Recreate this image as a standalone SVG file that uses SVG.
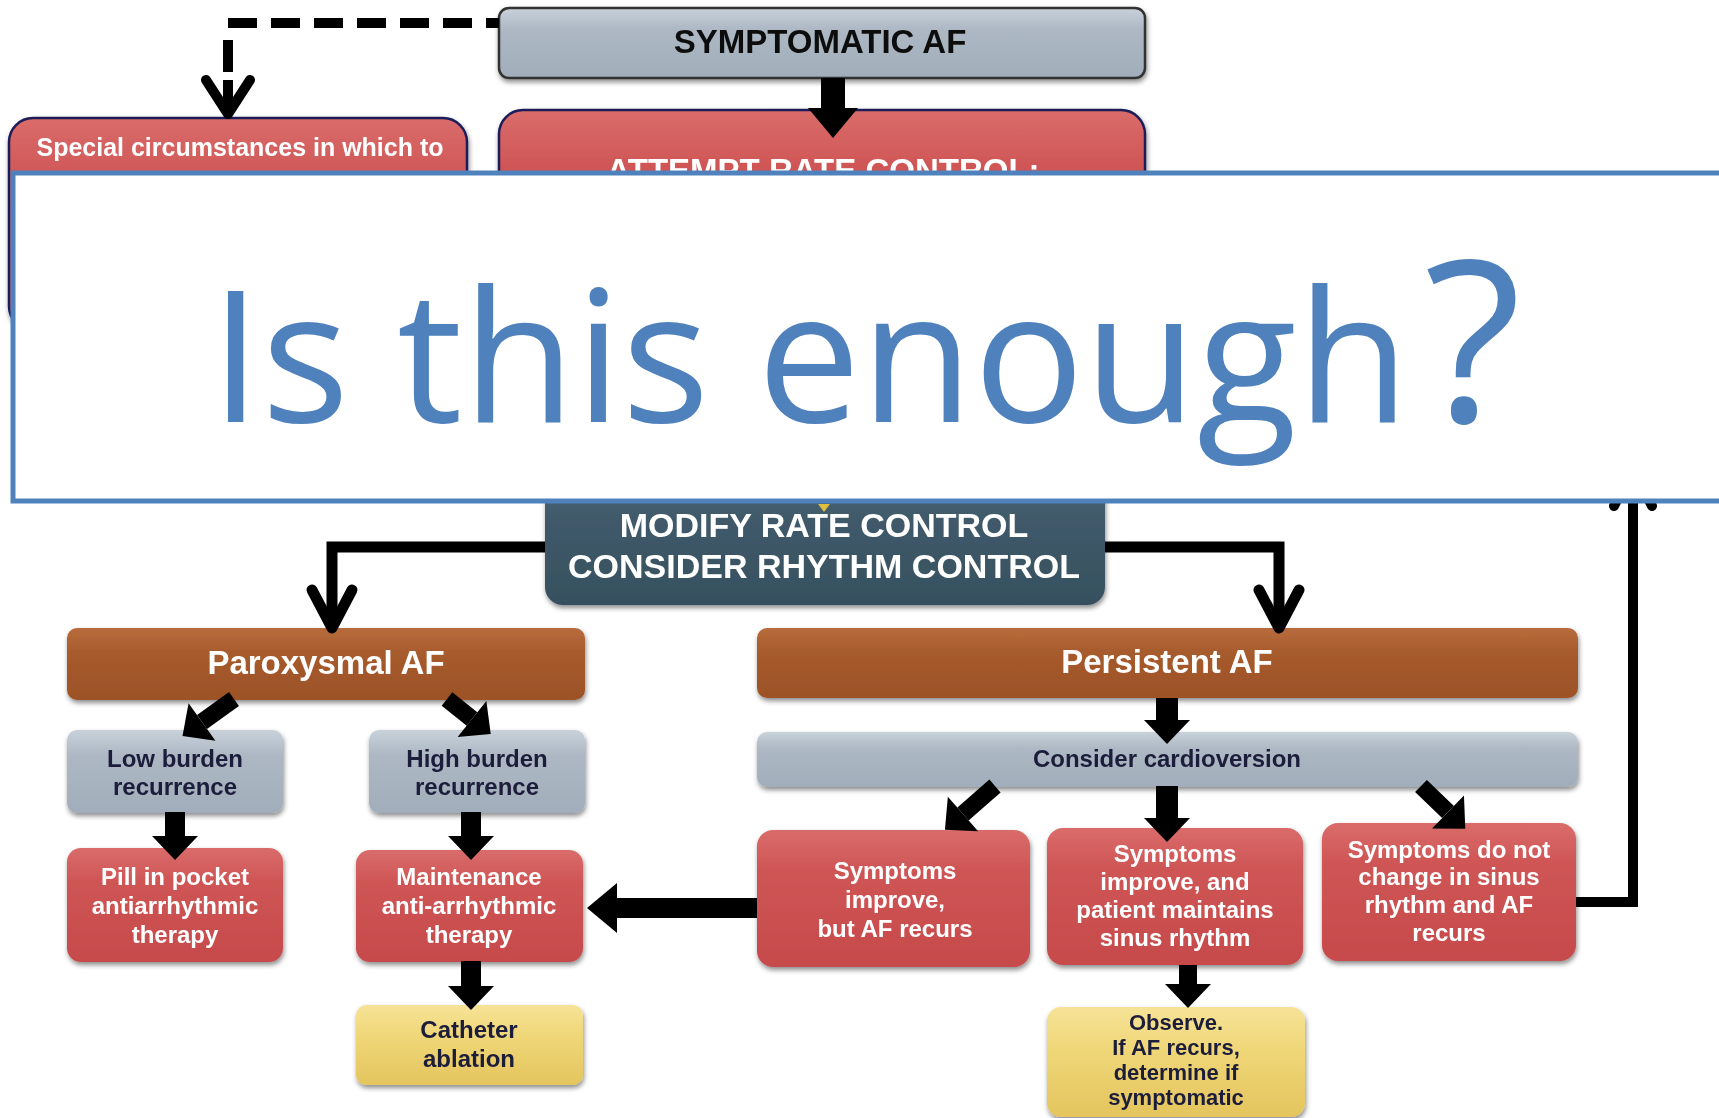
<svg xmlns="http://www.w3.org/2000/svg" width="1719" height="1118" viewBox="0 0 1719 1118">
<style>
.lbl{font-family:"Liberation Sans",Arial,Helvetica,sans-serif;font-weight:bold;text-anchor:middle}
.w{fill:#ffffff}
.d{fill:#1c1c3a}
.k{fill:#111111}
.f33{font-size:33px}
.f32{font-size:32px}
.f25{font-size:25px}
.f24{font-size:24px}
.f22{font-size:22px}
.box{filter:url(#sh)}
.red{fill:url(#gRed)}
.gray{fill:url(#gGray)}
.brown{fill:url(#gBrown)}
.yel{fill:url(#gYel)}
.slate{fill:url(#gSlate)}
.ln{fill:none;stroke:#000000}
.chev{fill:none;stroke:#000000;stroke-linecap:round;stroke-linejoin:round}
.big{font-family:"Open Sans","Noto Sans",sans-serif;fill:#4f81bd}
</style>
<defs>
<linearGradient id="gRed" x1="0" y1="0" x2="0" y2="1"><stop offset="0" stop-color="#d96c6a"/><stop offset="0.3" stop-color="#cf5555"/><stop offset="1" stop-color="#c64a4b"/></linearGradient>
<linearGradient id="gGray" x1="0" y1="0" x2="0" y2="1"><stop offset="0" stop-color="#c9d2db"/><stop offset="0.3" stop-color="#adb8c4"/><stop offset="1" stop-color="#a1adba"/></linearGradient>
<linearGradient id="gBrown" x1="0" y1="0" x2="0" y2="1"><stop offset="0" stop-color="#b86c3d"/><stop offset="0.35" stop-color="#a75b2d"/><stop offset="1" stop-color="#9c5227"/></linearGradient>
<linearGradient id="gYel" x1="0" y1="0" x2="0" y2="1"><stop offset="0" stop-color="#f6e397"/><stop offset="0.4" stop-color="#efd677"/><stop offset="1" stop-color="#e4c55e"/></linearGradient>
<linearGradient id="gSlate" x1="0" y1="0" x2="0" y2="1"><stop offset="0" stop-color="#4b6575"/><stop offset="0.4" stop-color="#3f5969"/><stop offset="1" stop-color="#36505f"/></linearGradient>
<filter id="sh" x="-10%" y="-15%" width="125%" height="140%"><feDropShadow dx="1" dy="3" stdDeviation="2.5" flood-color="#000" flood-opacity="0.45"/></filter>
<marker id="hd" markerUnits="userSpaceOnUse" viewBox="0 -23 24 46" refX="0" refY="0" markerWidth="24" markerHeight="46" orient="auto" overflow="visible"><path d="M0,-23 L24,0 L0,23 z" fill="#000"/></marker>
<marker id="hdL" markerUnits="userSpaceOnUse" viewBox="0 -25 30 50" refX="0" refY="0" markerWidth="30" markerHeight="50" orient="auto" overflow="visible"><path d="M0,-25 L30,0 L0,25 z" fill="#000"/></marker>
</defs>
<rect width="1719" height="1118" fill="#ffffff"/>

<g id="symptomatic" class="box">
<rect x="499" y="8" width="646" height="70" rx="10" class="gray" stroke="#333" stroke-width="2.5"/>
<text x="820" y="53" class="lbl k f33">SYMPTOMATIC AF</text>
</g>
<g id="special" class="box">
<rect x="9" y="118" width="458" height="212" rx="24" class="red" stroke="#1e1e5a" stroke-width="2.5"/>
<text x="240" y="156" class="lbl w f25">Special circumstances in which to</text>
</g>
<g id="attempt" class="box">
<rect x="499" y="110" width="646" height="200" rx="24" class="red" stroke="#1e1e5a" stroke-width="2.5"/>
<text x="823" y="182" class="lbl w f33">ATTEMPT RATE CONTROL:</text>
</g>
<g id="modify" class="box">
<rect x="545" y="470" width="560" height="135" rx="18" class="slate"/>
<text x="824" y="537" class="lbl w" font-size="34">MODIFY RATE CONTROL</text>
<text x="824" y="578" class="lbl w" font-size="34">CONSIDER RHYTHM CONTROL</text>
</g>
<g id="paroxysmal" class="box">
<rect x="67" y="628" width="518" height="72" rx="10" class="brown"/>
<text x="326" y="674" class="lbl w f33">Paroxysmal AF</text>
</g>
<g id="persistent" class="box">
<rect x="757" y="628" width="821" height="70" rx="10" class="brown"/>
<text x="1167" y="673" class="lbl w f33">Persistent AF</text>
</g>
<g id="low" class="box">
<rect x="67" y="730" width="216" height="83" rx="10" class="gray"/>
<text x="175" y="767" class="lbl d f24">Low burden</text>
<text x="175" y="795" class="lbl d f24">recurrence</text>
</g>
<g id="high" class="box">
<rect x="369" y="730" width="216" height="83" rx="10" class="gray"/>
<text x="477" y="767" class="lbl d f24">High burden</text>
<text x="477" y="795" class="lbl d f24">recurrence</text>
</g>
<g id="pill" class="box">
<rect x="67" y="848" width="216" height="114" rx="14" class="red"/>
<text x="175" y="885" class="lbl w f24">Pill in pocket</text>
<text x="175" y="914" class="lbl w f24">antiarrhythmic</text>
<text x="175" y="943" class="lbl w f24">therapy</text>
</g>
<g id="maintenance" class="box">
<rect x="356" y="850" width="227" height="112" rx="14" class="red"/>
<text x="469" y="885" class="lbl w f24">Maintenance</text>
<text x="469" y="914" class="lbl w f24">anti-arrhythmic</text>
<text x="469" y="943" class="lbl w f24">therapy</text>
</g>
<g id="catheter" class="box">
<rect x="356" y="1005" width="227" height="80" rx="10" class="yel"/>
<text x="469" y="1038" class="lbl d f24">Catheter</text>
<text x="469" y="1067" class="lbl d f24">ablation</text>
</g>
<g id="cardioversion" class="box">
<rect x="757" y="732" width="821" height="55" rx="10" class="gray"/>
<text x="1167" y="767" class="lbl d f24">Consider cardioversion</text>
</g>
<g id="improveRecurs" class="box">
<rect x="757" y="830" width="273" height="137" rx="16" class="red"/>
<text x="895" y="879" class="lbl w f24">Symptoms</text>
<text x="895" y="908" class="lbl w f24">improve,</text>
<text x="895" y="937" class="lbl w f24">but AF recurs</text>
</g>
<g id="improveMaintains" class="box">
<rect x="1047" y="828" width="256" height="137" rx="16" class="red"/>
<text x="1175" y="862" class="lbl w f24">Symptoms</text>
<text x="1175" y="890" class="lbl w f24">improve, and</text>
<text x="1175" y="918" class="lbl w f24">patient maintains</text>
<text x="1175" y="946" class="lbl w f24">sinus rhythm</text>
</g>
<g id="noChange" class="box">
<rect x="1322" y="823" width="254" height="138" rx="16" class="red"/>
<text x="1449" y="858" class="lbl w f24">Symptoms do not</text>
<text x="1449" y="885" class="lbl w f24">change in sinus</text>
<text x="1449" y="913" class="lbl w f24">rhythm and AF</text>
<text x="1449" y="941" class="lbl w f24">recurs</text>
</g>
<g id="observe" class="box">
<rect x="1047" y="1007" width="258" height="110" rx="14" class="yel"/>
<text x="1176" y="1030" class="lbl d f22">Observe.</text>
<text x="1176" y="1055" class="lbl d f22">If AF recurs,</text>
<text x="1176" y="1080" class="lbl d f22">determine if</text>
<text x="1176" y="1105" class="lbl d f22">symptomatic</text>
</g>

<g id="connectors">
<path class="ln" d="M228,23 H499" stroke-width="10" stroke-dasharray="29 14"/>
<path class="ln" d="M228,40 V72" stroke-width="10"/>
<path class="ln" d="M228,80 V112" stroke-width="10"/>
<polyline class="chev" points="206,80 228,114 250,80" stroke-width="10"/>
<line class="ln" x1="833" y1="78" x2="833" y2="108" stroke-width="24" marker-end="url(#hdL)"/>
<path class="ln" d="M545,547 H332 V626" stroke-width="11"/>
<polyline class="chev" points="312,590 332,628 352,590" stroke-width="11"/>
<path class="ln" d="M1105,547 H1279 V626" stroke-width="11"/>
<polyline class="chev" points="1259,590 1279,628 1299,590" stroke-width="11"/>
<path d="M818,504 L830,504 L824,512 z" fill="#e2bc3c"/>
<line class="ln" x1="234" y1="699" x2="202" y2="722" stroke-width="17" marker-end="url(#hd)"/>
<line class="ln" x1="447" y1="699" x2="472" y2="719" stroke-width="17" marker-end="url(#hd)"/>
<line class="ln" x1="175" y1="812" x2="175" y2="836" stroke-width="20" marker-end="url(#hd)"/>
<line class="ln" x1="471" y1="812" x2="471" y2="836" stroke-width="20" marker-end="url(#hd)"/>
<line class="ln" x1="471" y1="961" x2="471" y2="986" stroke-width="20" marker-end="url(#hd)"/>
<line class="ln" x1="1167" y1="698" x2="1167" y2="720" stroke-width="22" marker-end="url(#hd)"/>
<line class="ln" x1="995" y1="786" x2="963" y2="814" stroke-width="17" marker-end="url(#hd)"/>
<line class="ln" x1="1167" y1="786" x2="1167" y2="818" stroke-width="22" marker-end="url(#hd)"/>
<line class="ln" x1="1421" y1="786" x2="1448" y2="812" stroke-width="17" marker-end="url(#hd)"/>
<line class="ln" x1="1188" y1="965" x2="1188" y2="984" stroke-width="18" marker-end="url(#hd)"/>
<line class="ln" x1="757" y1="908" x2="617" y2="908" stroke-width="20" marker-end="url(#hdL)"/>
<path class="ln" d="M1576,902 H1633 V480" stroke-width="10"/>
<polyline class="chev" points="1614,506 1633,468 1652,506" stroke-width="10"/>
</g>

<g id="overlay">
<rect x="13" y="173" width="1720" height="328" fill="#ffffff" stroke="#4f81bd" stroke-width="5"/>
<text y="422" class="big" font-size="184"><tspan x="210">Is this enough</tspan><tspan x="1424" font-size="226">?</tspan></text>
</g>
</svg>
